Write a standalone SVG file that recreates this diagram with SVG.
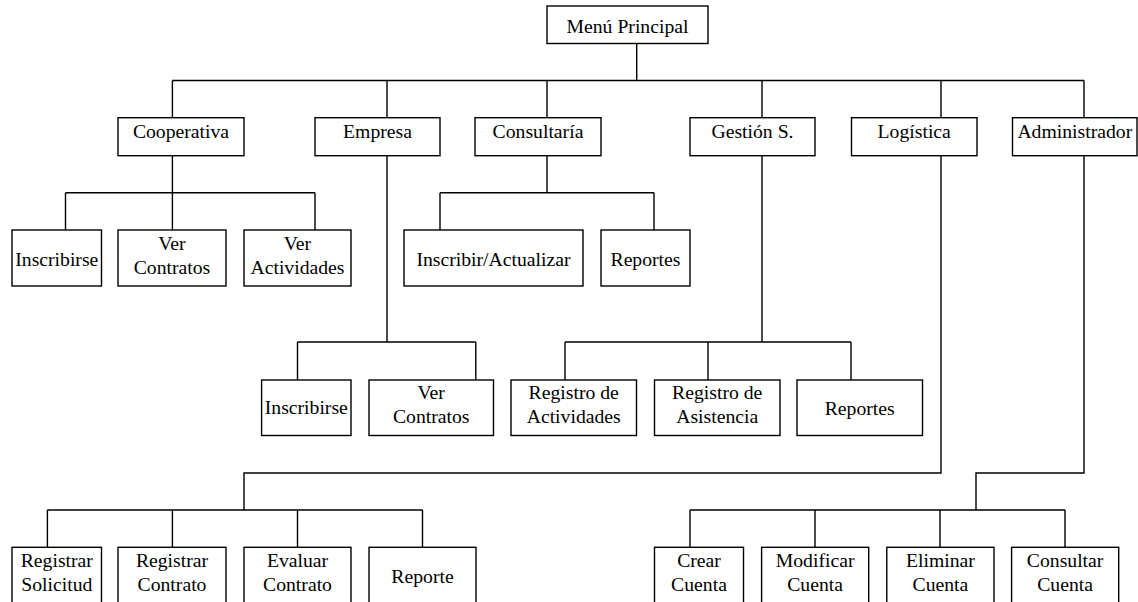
<svg xmlns="http://www.w3.org/2000/svg" width="1138" height="602" viewBox="0 0 1138 602">
<style>
.b{fill:#fff;stroke:#000;stroke-width:1.4}
.t{font-family:'Liberation Serif', 'DejaVu Serif', serif;font-size:19.7px;fill:#000;text-anchor:middle}
.c{fill:none;stroke:#000;stroke-width:1.4}
</style>
<rect width="1138" height="602" fill="#fff"/>
<g id="connectors" class="c">
<path d="M636.7 43.5V80.5M172.4 80.5H1084M172.4 80.5V117.7M387 80.5V117.7M547 80.5V117.7M762 80.5V117.7M941 80.5V117.7M1084 80.5V117.7"/>
<path d="M172.4 155.7V192.7M65.5 192.7H315M65.5 192.7V230M172.4 192.7V230M315 192.7V230"/>
<path d="M547 155.7V192.7M440 192.7H654M440 192.7V230M654 192.7V230"/>
<path d="M387 155.7V342M297.5 342H475.8M297.5 342V380M475.8 342V380"/>
<path d="M762 155.7V342M565 342H851M565 342V380M708 342V380M851 342V380"/>
<path d="M941 155.7V473H244V510M47.4 510H422.5M47.4 510V547.3M172.4 510V547.3M297.5 510V547.3M422.5 510V547.3"/>
<path d="M1084 155.7V473H976V510M690 510H1065M690 510V547.3M815 510V547.3M940 510V547.3M1065 510V547.3"/>
</g>
<g id="menu"><rect class="b" x="547" y="6" width="161" height="37.5"/><text class="t" x="627.5" y="33.3">Menú Principal</text></g>
<g id="cooperativa"><rect class="b" x="118" y="117.7" width="126" height="38"/><text class="t" x="181" y="138.3">Cooperativa</text></g>
<g id="empresa"><rect class="b" x="315" y="117.7" width="125" height="38"/><text class="t" x="377.5" y="138.3">Empresa</text></g>
<g id="consultaria"><rect class="b" x="475" y="117.7" width="126" height="38"/><text class="t" x="538" y="138.3">Consultaría</text></g>
<g id="gestion"><rect class="b" x="690" y="117.7" width="125" height="38"/><text class="t" x="752.5" y="138.3">Gestión S.</text></g>
<g id="logistica"><rect class="b" x="851.5" y="117.7" width="125.5" height="38"/><text class="t" x="914.2" y="138.3">Logística</text></g>
<g id="administrador"><rect class="b" x="1012.5" y="117.7" width="124.5" height="38"/><text class="t" x="1074.8" y="138.3">Administrador</text></g>
<g id="coop-inscribirse"><rect class="b" x="12" y="230" width="89.5" height="56"/><text class="t" x="56.8" y="265.5">Inscribirse</text></g>
<g id="coop-ver-contratos"><rect class="b" x="118" y="230" width="108" height="56"/><text class="t" x="172" y="249.7">Ver</text><text class="t" x="172" y="273.7">Contratos</text></g>
<g id="coop-ver-actividades"><rect class="b" x="244" y="230" width="107" height="56"/><text class="t" x="297.5" y="249.7">Ver</text><text class="t" x="297.5" y="273.7">Actividades</text></g>
<g id="cons-inscribir"><rect class="b" x="404" y="230" width="179" height="56"/><text class="t" x="493.5" y="265.5">Inscribir/Actualizar</text></g>
<g id="cons-reportes"><rect class="b" x="601" y="230" width="89" height="56"/><text class="t" x="645.5" y="265.5">Reportes</text></g>
<g id="emp-inscribirse"><rect class="b" x="261.6" y="380" width="89.4" height="55.5"/><text class="t" x="306.3" y="413.5">Inscribirse</text></g>
<g id="emp-ver-contratos"><rect class="b" x="369" y="380" width="124.5" height="55.5"/><text class="t" x="431.2" y="399.3">Ver</text><text class="t" x="431.2" y="423.3">Contratos</text></g>
<g id="ges-actividades"><rect class="b" x="511" y="380" width="125.5" height="55.5"/><text class="t" x="573.7" y="399.3">Registro de</text><text class="t" x="573.7" y="423.3">Actividades</text></g>
<g id="ges-asistencia"><rect class="b" x="654.5" y="380" width="125.5" height="55.5"/><text class="t" x="717.2" y="399.3">Registro de</text><text class="t" x="717.2" y="423.3">Asistencia</text></g>
<g id="ges-reportes"><rect class="b" x="797" y="380" width="125.5" height="55.5"/><text class="t" x="859.7" y="415">Reportes</text></g>
<g id="log-solicitud"><rect class="b" x="12" y="547.3" width="89.5" height="62"/><text class="t" x="56.8" y="567">Registrar</text><text class="t" x="56.8" y="591">Solicitud</text></g>
<g id="log-contrato"><rect class="b" x="118" y="547.3" width="108" height="62"/><text class="t" x="172" y="567">Registrar</text><text class="t" x="172" y="591">Contrato</text></g>
<g id="log-evaluar"><rect class="b" x="244" y="547.3" width="107" height="62"/><text class="t" x="297.5" y="567">Evaluar</text><text class="t" x="297.5" y="591">Contrato</text></g>
<g id="log-reporte"><rect class="b" x="369" y="547.3" width="107" height="62"/><text class="t" x="422.5" y="582.7">Reporte</text></g>
<g id="adm-crear"><rect class="b" x="654.5" y="547.3" width="89" height="62"/><text class="t" x="699" y="567">Crear</text><text class="t" x="699" y="591">Cuenta</text></g>
<g id="adm-modificar"><rect class="b" x="761.6" y="547.3" width="107.1" height="62"/><text class="t" x="815.1" y="567">Modificar</text><text class="t" x="815.1" y="591">Cuenta</text></g>
<g id="adm-eliminar"><rect class="b" x="886.8" y="547.3" width="107.2" height="62"/><text class="t" x="940.4" y="567">Eliminar</text><text class="t" x="940.4" y="591">Cuenta</text></g>
<g id="adm-consultar"><rect class="b" x="1011.6" y="547.3" width="107.1" height="62"/><text class="t" x="1065.1" y="567">Consultar</text><text class="t" x="1065.1" y="591">Cuenta</text></g>
</svg>
